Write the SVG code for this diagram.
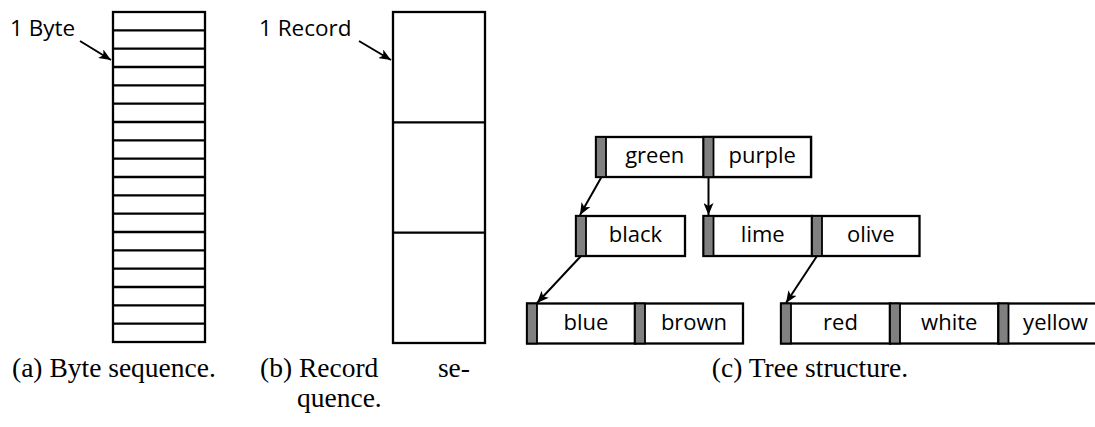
<svg xmlns="http://www.w3.org/2000/svg" width="1095" height="427" viewBox="0 0 1095 427">
<style>
.box{fill:#fff;stroke:#000;stroke-width:2.3}
.ln{stroke:#000;stroke-width:2.3;fill:none}
.bar{fill:#808080;stroke:#000;stroke-width:1.8}
.lbl{font-family:"Open Sans",sans-serif;font-size:22.5px;fill:#000}
.cell{font-family:"Open Sans",sans-serif;font-size:22px;fill:#000;text-anchor:middle}
.cap{font-family:"Liberation Serif",serif;font-size:27.5px;fill:#000}
.conn{stroke:#000;stroke-width:2;fill:none;marker-end:url(#ah)}
</style>
<defs>
<marker id="ah" viewBox="0 0 12 10" refX="12" refY="5" markerWidth="12" markerHeight="10" markerUnits="userSpaceOnUse" orient="auto">
<path d="M0,0 L12,5 L0,10 L3,5 Z" fill="#000"/>
</marker>
</defs>

<g id="byte-seq">
<rect class="box" x="113" y="12" width="92" height="330"/>
<path class="ln" d="M113,30.33H205M113,48.67H205M113,67H205M113,85.33H205M113,103.67H205M113,122H205M113,140.33H205M113,158.67H205M113,177H205M113,195.33H205M113,213.67H205M113,232H205M113,250.33H205M113,268.67H205M113,287H205M113,305.33H205M113,323.67H205"/>
<text class="lbl" x="10" y="36">1 Byte</text>
</g>

<g id="record-seq">
<rect class="box" x="393" y="12" width="92" height="331"/>
<path class="ln" d="M393,122.3H485M393,232.7H485"/>
<text class="lbl" x="259" y="36">1 Record</text>
</g>

<g id="node-green-purple">
<rect class="box" x="596" y="137" width="215" height="40"/>
<rect class="bar" x="596" y="137" width="10" height="40"/>
<rect class="box" x="703.5" y="137" width="107.5" height="40"/>
<rect class="bar" x="703.5" y="137" width="10" height="40"/>
<text class="cell" x="654.75" y="163">green</text>
<text class="cell" x="762.25" y="163">purple</text>
</g>

<g id="node-black">
<rect class="box" x="576" y="216" width="109" height="40"/>
<rect class="bar" x="576" y="216" width="10" height="40"/>
<text class="cell" x="635.5" y="242">black</text>
</g>

<g id="node-lime-olive">
<rect class="box" x="703.5" y="216" width="108.5" height="40"/>
<rect class="bar" x="703.5" y="216" width="10" height="40"/>
<rect class="box" x="812" y="216" width="107.5" height="40"/>
<rect class="bar" x="812" y="216" width="10" height="40"/>
<text class="cell" x="762.75" y="242">lime</text>
<text class="cell" x="870.75" y="242">olive</text>
</g>

<g id="node-blue-brown">
<rect class="box" x="527" y="303.5" width="108" height="40"/>
<rect class="bar" x="527" y="303.5" width="10" height="40"/>
<rect class="box" x="635" y="303.5" width="108" height="40"/>
<rect class="bar" x="635" y="303.5" width="10" height="40"/>
<text class="cell" x="586" y="329.5">blue</text>
<text class="cell" x="694" y="329.5">brown</text>
</g>

<g id="node-red-white-yellow">
<rect class="box" x="781" y="303.5" width="109" height="40"/>
<rect class="bar" x="781" y="303.5" width="10" height="40"/>
<rect class="box" x="890" y="303.5" width="108.5" height="40"/>
<rect class="bar" x="890" y="303.5" width="10" height="40"/>
<rect class="box" x="998.5" y="303.5" width="108" height="40"/>
<rect class="bar" x="998.5" y="303.5" width="10" height="40"/>
<text class="cell" x="840.5" y="329.5">red</text>
<text class="cell" x="949.25" y="329.5">white</text>
<text class="cell" x="1055.5" y="329.5">yellow</text>
</g>

<g id="connectors">
<line class="conn" x1="80" y1="41" x2="111" y2="60"/>
<line class="conn" x1="359" y1="41" x2="391" y2="60"/>
<line class="conn" x1="601.5" y1="177" x2="580" y2="215"/>
<line class="conn" x1="708.5" y1="177" x2="708.5" y2="215"/>
<line class="conn" x1="581" y1="256" x2="537" y2="303"/>
<line class="conn" x1="817" y1="256" x2="786" y2="303"/>
</g>

<g id="captions">
<text class="cap" x="12" y="377">(a) Byte sequence.</text>
<text class="cap" x="260" y="377">(b) Record</text>
<text class="cap" x="470" y="377" text-anchor="end">se-</text>
<text class="cap" x="297" y="407">quence.</text>
<text class="cap" x="810" y="377" text-anchor="middle">(c) Tree structure.</text>
</g>
</svg>
